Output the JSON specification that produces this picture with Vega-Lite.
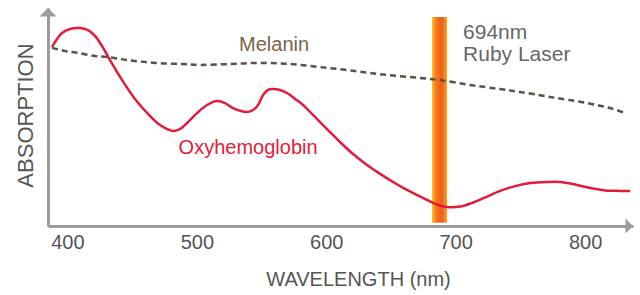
{
  "$schema": "https://vega.github.io/schema/vega-lite/v6.json",
  "width": 585,
  "height": 218,
  "autosize": {"type": "none"},
  "padding": {"left": 48, "top": 8, "right": 7, "bottom": 69},
  "background": "white",
  "config": {"view": {"stroke": null}, "font": "Liberation Sans"},
  "datasets": {
    "oxy": [
      {"wavelength": 388.1, "absorption": 82.1}, {"wavelength": 392.0, "absorption": 85.8},
      {"wavelength": 395.8, "absorption": 88.5}, {"wavelength": 402.0, "absorption": 90.4},
      {"wavelength": 409.7, "absorption": 90.8}, {"wavelength": 415.9, "absorption": 89.9},
      {"wavelength": 421.3, "absorption": 87.2}, {"wavelength": 426.7, "absorption": 82.6},
      {"wavelength": 432.9, "absorption": 76.1}, {"wavelength": 442.2, "absorption": 67.0},
      {"wavelength": 452.2, "absorption": 58.3}, {"wavelength": 462.3, "absorption": 51.4},
      {"wavelength": 471.6, "absorption": 46.3}, {"wavelength": 481.6, "absorption": 43.6},
      {"wavelength": 487.0, "absorption": 44.5}, {"wavelength": 494.7, "absorption": 48.6},
      {"wavelength": 500.1, "absorption": 51.8}, {"wavelength": 507.9, "absorption": 55.5},
      {"wavelength": 515.6, "absorption": 57.3}, {"wavelength": 521.8, "absorption": 56.4},
      {"wavelength": 528.0, "absorption": 54.1}, {"wavelength": 538.8, "absorption": 52.3},
      {"wavelength": 543.4, "absorption": 53.2}, {"wavelength": 547.3, "absorption": 55.5},
      {"wavelength": 551.2, "absorption": 60.1}, {"wavelength": 555.0, "absorption": 62.4},
      {"wavelength": 558.1, "absorption": 62.8}, {"wavelength": 564.3, "absorption": 62.4},
      {"wavelength": 569.7, "absorption": 61.0}, {"wavelength": 575.9, "absorption": 58.3},
      {"wavelength": 582.1, "absorption": 55.5}, {"wavelength": 589.0, "absorption": 51.4},
      {"wavelength": 595.2, "absorption": 47.7}, {"wavelength": 602.9, "absorption": 43.1},
      {"wavelength": 610.7, "absorption": 38.5}, {"wavelength": 620.7, "absorption": 33.0},
      {"wavelength": 631.5, "absorption": 28.0}, {"wavelength": 641.6, "absorption": 23.9},
      {"wavelength": 651.6, "absorption": 20.2}, {"wavelength": 660.9, "absorption": 17.0},
      {"wavelength": 670.2, "absorption": 14.2}, {"wavelength": 682.5, "absorption": 10.6},
      {"wavelength": 687.9, "absorption": 9.4}, {"wavelength": 693.3, "absorption": 8.7},
      {"wavelength": 703.4, "absorption": 8.9}, {"wavelength": 712.7, "absorption": 10.6},
      {"wavelength": 722.7, "absorption": 13.1}, {"wavelength": 734.3, "absorption": 16.1},
      {"wavelength": 745.9, "absorption": 18.3}, {"wavelength": 757.5, "absorption": 19.7},
      {"wavelength": 770.6, "absorption": 20.2}, {"wavelength": 780.7, "absorption": 20.2},
      {"wavelength": 792.3, "absorption": 19.0}, {"wavelength": 803.9, "absorption": 17.4},
      {"wavelength": 815.5, "absorption": 16.3}, {"wavelength": 827.0, "absorption": 16.1},
      {"wavelength": 834.8, "absorption": 16.1}
    ],
    "melanin": [
      {"wavelength": 388.1, "absorption": 81.7}, {"wavelength": 398.1, "absorption": 80.3},
      {"wavelength": 408.2, "absorption": 79.4}, {"wavelength": 421.3, "absorption": 78.0},
      {"wavelength": 430.6, "absorption": 77.5}, {"wavelength": 446.8, "absorption": 76.1},
      {"wavelength": 467.7, "absorption": 74.8}, {"wavelength": 488.6, "absorption": 74.3},
      {"wavelength": 502.5, "absorption": 73.9}, {"wavelength": 525.6, "absorption": 74.3},
      {"wavelength": 548.8, "absorption": 74.8}, {"wavelength": 572.0, "absorption": 74.3},
      {"wavelength": 595.2, "absorption": 72.9}, {"wavelength": 622.2, "absorption": 71.1},
      {"wavelength": 647.0, "absorption": 69.3}, {"wavelength": 672.5, "absorption": 67.9},
      {"wavelength": 687.2, "absorption": 67.0}, {"wavelength": 711.1, "absorption": 64.7},
      {"wavelength": 734.3, "absorption": 62.8}, {"wavelength": 749.8, "absorption": 61.5},
      {"wavelength": 772.9, "absorption": 59.2}, {"wavelength": 801.5, "absorption": 56.4},
      {"wavelength": 819.3, "absorption": 54.1}, {"wavelength": 830.9, "absorption": 51.8}
    ],
    "laser": [{"wavelength": 681.8, "wavelength2": 693.3, "absorption": 1.5, "absorption2": 95.9}],
    "labels": [
      {"wavelength": 559.7, "absorption": 83.0, "text": "Melanin", "kind": "melanin"},
      {"wavelength": 539.6, "absorption": 35.8, "text": "Oxyhemoglobin", "kind": "oxy"}
    ],
    "laserLabels": [
      {"wavelength": 705.7, "absorption": 88.5, "text": "694nm"},
      {"wavelength": 705.7, "absorption": 78.4, "text": "Ruby Laser"}
    ],
    "arrowY": [{"wavelength": 385, "absorption": 100}],
    "arrowX": [{"wavelength": 837, "absorption": 0}]
  },
  "encoding": {
    "x": {
      "field": "wavelength", "type": "quantitative", "scale": {"domain": [385, 837]},
      "axis": {
        "title": "WAVELENGTH (nm)", "values": [400, 500, 600, 700, 800],
        "domainColor": "#9c9c9c", "domainWidth": 3, "ticks": false, "grid": false,
        "labelFont": "Liberation Sans", "labelFontSize": 20, "labelColor": "#555555", "labelPadding": 6,
        "titleFont": "Liberation Sans", "titleFontSize": 20, "titleFontWeight": "normal", "titleColor": "#555555",
        "titleX": 310, "titleY": 59, "titleBaseline": "alphabetic", "titleAlign": "center"
      }
    },
    "y": {
      "field": "absorption", "type": "quantitative", "scale": {"domain": [0, 100]},
      "axis": {
        "title": "ABSORPTION", "labels": false, "ticks": false, "grid": false,
        "domainColor": "#9c9c9c", "domainWidth": 3,
        "titleFont": "Liberation Sans", "titleFontSize": 22, "titleFontWeight": "normal", "titleColor": "#555555",
        "titleAngle": -90, "titleX": -16, "titleY": 107, "titleBaseline": "alphabetic", "titleAlign": "center"
      }
    }
  },
  "layer": [
    {
      "data": {"name": "laser"},
      "mark": {
        "type": "rect",
        "fill": {
          "gradient": "linear", "x1": 0, "x2": 1, "y1": 0, "y2": 0,
          "stops": [
            {"offset": 0, "color": "#FDB714"},
            {"offset": 0.35, "color": "#F37021"},
            {"offset": 0.65, "color": "#F15A22"},
            {"offset": 1, "color": "#FAA61A"}
          ]
        }
      },
      "encoding": {
        "x2": {"field": "wavelength2"},
        "y2": {"field": "absorption2"}
      }
    },
    {
      "data": {"name": "oxy"},
      "mark": {"type": "line", "color": "#E31B3B", "strokeWidth": 2.5, "interpolate": "catmull-rom"}
    },
    {
      "data": {"name": "melanin"},
      "mark": {"type": "line", "color": "#5a5148", "strokeWidth": 2.5, "strokeDash": [6, 4], "interpolate": "catmull-rom"}
    },
    {
      "data": {"name": "labels"},
      "mark": {"type": "text", "fontSize": 20, "align": "center", "baseline": "middle", "font": "Liberation Sans"},
      "encoding": {
        "text": {"field": "text"},
        "color": {"field": "kind", "type": "nominal", "scale": {"domain": ["melanin", "oxy"], "range": ["#7a6549", "#E31B3B"]}, "legend": null}
      }
    },
    {
      "data": {"name": "laserLabels"},
      "mark": {"type": "text", "fontSize": 21, "align": "left", "baseline": "middle", "color": "#666666", "font": "Liberation Sans"},
      "encoding": {
        "text": {"field": "text"}
      }
    },
    {
      "data": {"name": "arrowY"},
      "mark": {"type": "point", "shape": "M-1,1L1,1L0,0Z", "size": 289, "filled": true, "color": "#9c9c9c", "opacity": 1}
    },
    {
      "data": {"name": "arrowX"},
      "mark": {"type": "point", "shape": "M-1,-1L-1,1L0,0Z", "size": 225, "filled": true, "color": "#9c9c9c", "opacity": 1}
    }
  ]
}
